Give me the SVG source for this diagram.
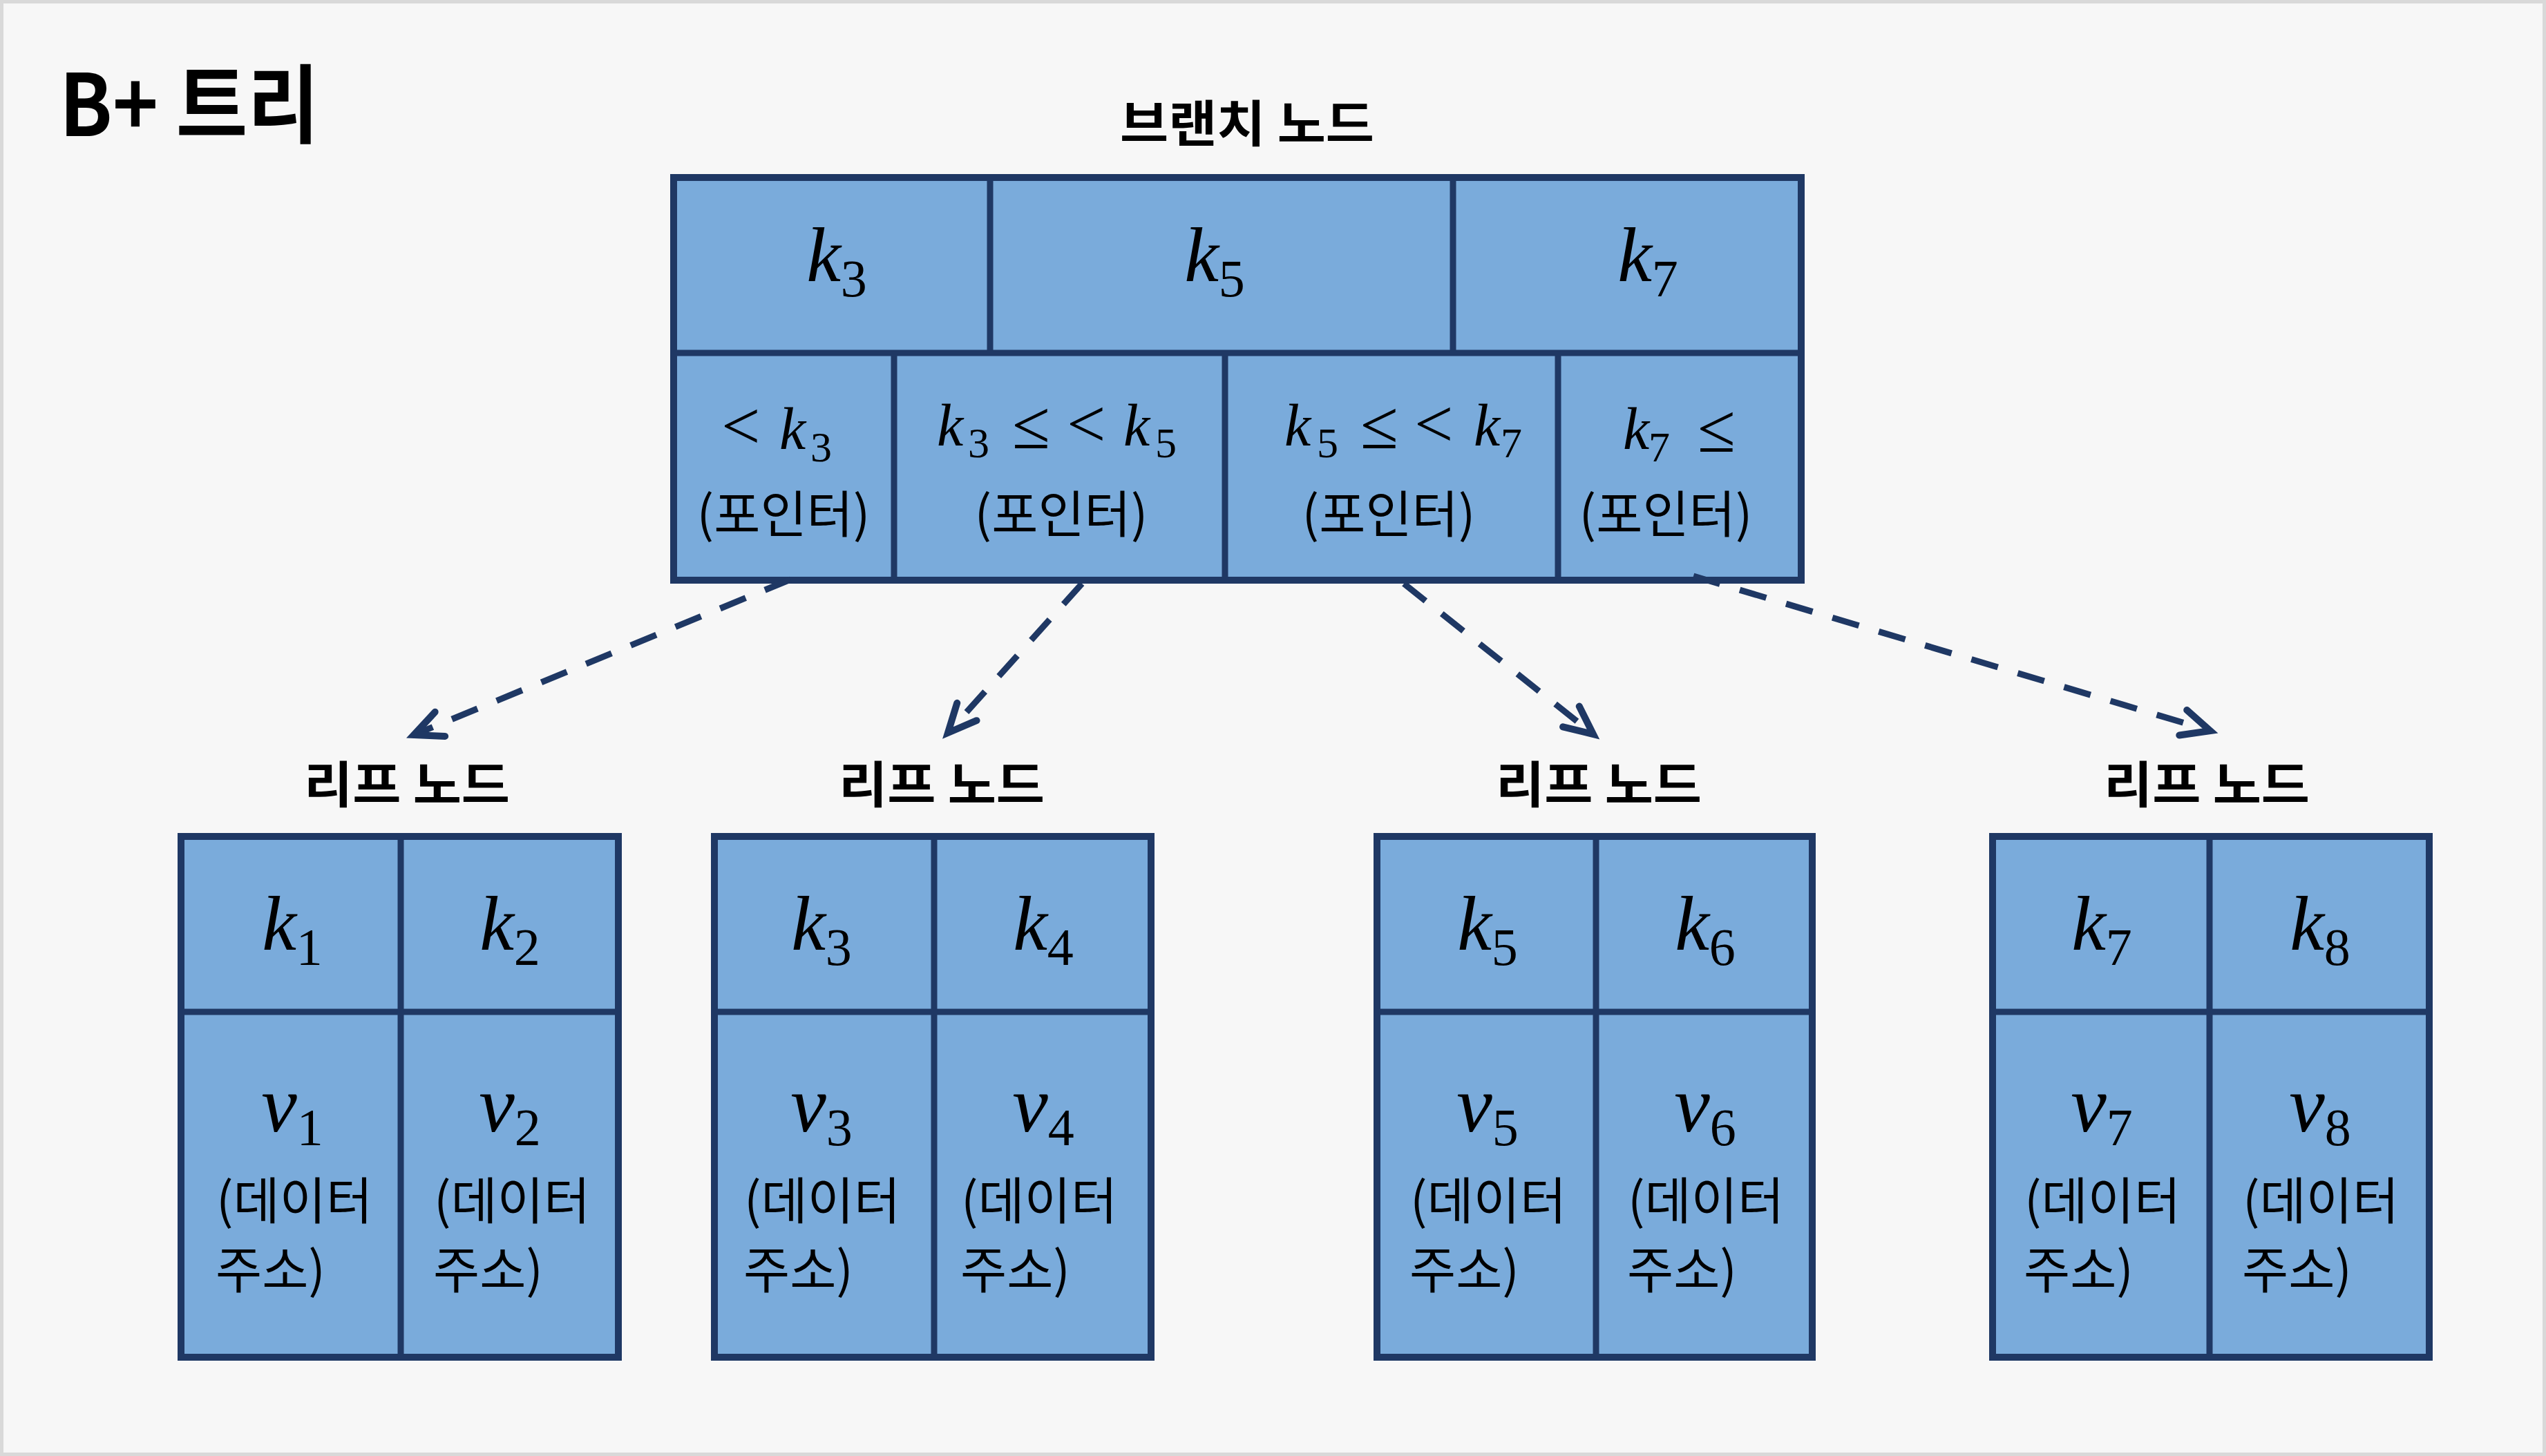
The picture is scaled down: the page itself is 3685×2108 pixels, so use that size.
<svg xmlns="http://www.w3.org/2000/svg" width="3685" height="2108" viewBox="0 0 3685 2108">
<defs>
<style>
.frame{fill:#F7F7F7;stroke:#D9D9D9;stroke-width:5}
.box{fill:#7AABDB;stroke:#1F3864;stroke-width:10}
.dv{fill:none;stroke:#1F3864;stroke-width:9}
.kr{font-family:"Noto Sans CJK KR","Noto Sans",sans-serif;fill:#000}
.lbl{font-size:72px;font-weight:700}
.note{font-size:73px;font-weight:400}
.m{font-family:"Liberation Serif","DejaVu Serif",serif;fill:#000}
.i{font-style:italic}
.rel{font-size:100px}
.conn{fill:none;stroke:#1F3864;stroke-width:9;stroke-dasharray:40 30;marker-end:url(#arr)}
</style>
<marker id="arr" markerUnits="userSpaceOnUse" orient="auto" refX="0" refY="0" markerWidth="120" markerHeight="120" viewBox="-60 -60 120 120" overflow="visible">
<path d="M-41,-19 L0,0 L-41,19" fill="none" stroke="#1F3864" stroke-width="10" stroke-linecap="round" stroke-linejoin="miter" stroke-miterlimit="10"/>
</marker>
</defs>

<rect class="frame" x="2.5" y="2.5" width="3680" height="2103"/>

<g id="title">
<text class="kr" x="86" y="197" font-size="124" font-weight="700" textLength="376" lengthAdjust="spacingAndGlyphs">B+ 트리</text>
</g>

<g id="branch-node">
<text class="kr lbl" x="1805" y="205" text-anchor="middle" textLength="368" lengthAdjust="spacingAndGlyphs">브랜치 노드</text>
<rect class="box" x="975" y="257" width="1632" height="583"/>
<line class="dv" x1="975" y1="511" x2="2607" y2="511"/>
<line class="dv" x1="1433" y1="257" x2="1433" y2="511"/>
<line class="dv" x1="2103" y1="257" x2="2103" y2="511"/>
<line class="dv" x1="1294" y1="511" x2="1294" y2="840"/>
<line class="dv" x1="1773" y1="511" x2="1773" y2="840"/>
<line class="dv" x1="2255" y1="511" x2="2255" y2="840"/>
<text class="m" x="1211" y="407" text-anchor="middle" font-size="112"><tspan class="i">k</tspan><tspan font-size="76" dy="22">3</tspan></text>
<text class="m" x="1758" y="407" text-anchor="middle" font-size="112"><tspan class="i">k</tspan><tspan font-size="76" dy="22">5</tspan></text>
<text class="m" x="2385" y="407" text-anchor="middle" font-size="112"><tspan class="i">k</tspan><tspan font-size="76" dy="22">7</tspan></text>

<text class="m" font-size="86"><tspan class="rel" x="1044" y="650">&lt;</tspan><tspan class="i" x="1128" y="650">k</tspan><tspan x="1173" y="668" font-size="62">3</tspan></text>
<text class="m" font-size="86"><tspan class="i" x="1356" y="645">k</tspan><tspan x="1401" y="662" font-size="62">3</tspan><tspan class="rel" x="1465" y="649">≤</tspan><tspan class="rel" x="1544" y="647">&lt;</tspan><tspan class="i" x="1626" y="645">k</tspan><tspan x="1672" y="662" font-size="62">5</tspan></text>
<text class="m" font-size="86"><tspan class="i" x="1859" y="645">k</tspan><tspan x="1906" y="662" font-size="62">5</tspan><tspan class="rel" x="1969" y="649">≤</tspan><tspan class="rel" x="2047" y="647">&lt;</tspan><tspan class="i" x="2133" y="645">k</tspan><tspan x="2172" y="662" font-size="62">7</tspan></text>
<text class="m" font-size="86"><tspan class="i" x="2349" y="650">k</tspan><tspan x="2386" y="668" font-size="62">7</tspan><tspan class="rel" x="2457" y="654">≤</tspan></text>

<text class="kr note" x="1134" y="771" text-anchor="middle">(포인터)</text>
<text class="kr note" x="1536" y="771" text-anchor="middle">(포인터)</text>
<text class="kr note" x="2010" y="771" text-anchor="middle">(포인터)</text>
<text class="kr note" x="2411" y="771" text-anchor="middle">(포인터)</text>
</g>

<g id="leaf-node-1">
<text class="kr lbl" x="589" y="1162" text-anchor="middle" textLength="298" lengthAdjust="spacingAndGlyphs">리프 노드</text>
<rect class="box" x="262" y="1211" width="633" height="754"/>
<line class="dv" x1="262" y1="1465" x2="895" y2="1465"/>
<line class="dv" x1="580" y1="1211" x2="580" y2="1965"/>
<text class="m" x="423" y="1375" text-anchor="middle" font-size="112"><tspan class="i">k</tspan><tspan font-size="76" dy="22">1</tspan></text>
<text class="m" x="738" y="1375" text-anchor="middle" font-size="112"><tspan class="i">k</tspan><tspan font-size="76" dy="22">2</tspan></text>
<text class="m" x="423" y="1638" text-anchor="middle" font-size="116"><tspan class="i">v</tspan><tspan font-size="76" dy="20">1</tspan></text>
<text class="m" x="738" y="1638" text-anchor="middle" font-size="116"><tspan class="i">v</tspan><tspan font-size="76" dy="20">2</tspan></text>
<text class="kr note" x="426" y="1765" text-anchor="middle">(데이터</text>
<text class="kr note" x="312" y="1865">주소)</text>
<text class="kr note" x="741" y="1765" text-anchor="middle">(데이터</text>
<text class="kr note" x="627" y="1865">주소)</text>
</g>

<g id="leaf-node-2">
<text class="kr lbl" x="1363" y="1162" text-anchor="middle" textLength="298" lengthAdjust="spacingAndGlyphs">리프 노드</text>
<rect class="box" x="1034" y="1211" width="632" height="754"/>
<line class="dv" x1="1034" y1="1465" x2="1666" y2="1465"/>
<line class="dv" x1="1352" y1="1211" x2="1352" y2="1965"/>
<text class="m" x="1189" y="1375" text-anchor="middle" font-size="112"><tspan class="i">k</tspan><tspan font-size="76" dy="22">3</tspan></text>
<text class="m" x="1510" y="1375" text-anchor="middle" font-size="112"><tspan class="i">k</tspan><tspan font-size="76" dy="22">4</tspan></text>
<text class="m" x="1189" y="1638" text-anchor="middle" font-size="116"><tspan class="i">v</tspan><tspan font-size="76" dy="20">3</tspan></text>
<text class="m" x="1510" y="1638" text-anchor="middle" font-size="116"><tspan class="i">v</tspan><tspan font-size="76" dy="20">4</tspan></text>
<text class="kr note" x="1190" y="1765" text-anchor="middle">(데이터</text>
<text class="kr note" x="1076" y="1865">주소)</text>
<text class="kr note" x="1504" y="1765" text-anchor="middle">(데이터</text>
<text class="kr note" x="1390" y="1865">주소)</text>
</g>

<g id="leaf-node-3">
<text class="kr lbl" x="2314" y="1162" text-anchor="middle" textLength="298" lengthAdjust="spacingAndGlyphs">리프 노드</text>
<rect class="box" x="1993" y="1211" width="630" height="754"/>
<line class="dv" x1="1993" y1="1465" x2="2623" y2="1465"/>
<line class="dv" x1="2310" y1="1211" x2="2310" y2="1965"/>
<text class="m" x="2153" y="1375" text-anchor="middle" font-size="112"><tspan class="i">k</tspan><tspan font-size="76" dy="22">5</tspan></text>
<text class="m" x="2468" y="1375" text-anchor="middle" font-size="112"><tspan class="i">k</tspan><tspan font-size="76" dy="22">6</tspan></text>
<text class="m" x="2153" y="1638" text-anchor="middle" font-size="116"><tspan class="i">v</tspan><tspan font-size="76" dy="20">5</tspan></text>
<text class="m" x="2468" y="1638" text-anchor="middle" font-size="116"><tspan class="i">v</tspan><tspan font-size="76" dy="20">6</tspan></text>
<text class="kr note" x="2154" y="1765" text-anchor="middle">(데이터</text>
<text class="kr note" x="2040" y="1865">주소)</text>
<text class="kr note" x="2469" y="1765" text-anchor="middle">(데이터</text>
<text class="kr note" x="2355" y="1865">주소)</text>
</g>

<g id="leaf-node-4">
<text class="kr lbl" x="3194" y="1162" text-anchor="middle" textLength="298" lengthAdjust="spacingAndGlyphs">리프 노드</text>
<rect class="box" x="2884" y="1211" width="632" height="754"/>
<line class="dv" x1="2884" y1="1465" x2="3516" y2="1465"/>
<line class="dv" x1="3198" y1="1211" x2="3198" y2="1965"/>
<text class="m" x="3042" y="1375" text-anchor="middle" font-size="112"><tspan class="i">k</tspan><tspan font-size="76" dy="22">7</tspan></text>
<text class="m" x="3358" y="1375" text-anchor="middle" font-size="112"><tspan class="i">k</tspan><tspan font-size="76" dy="22">8</tspan></text>
<text class="m" x="3042" y="1638" text-anchor="middle" font-size="116"><tspan class="i">v</tspan><tspan font-size="76" dy="20">7</tspan></text>
<text class="m" x="3358" y="1638" text-anchor="middle" font-size="116"><tspan class="i">v</tspan><tspan font-size="76" dy="20">8</tspan></text>
<text class="kr note" x="3043" y="1765" text-anchor="middle">(데이터</text>
<text class="kr note" x="2929" y="1865">주소)</text>
<text class="kr note" x="3359" y="1765" text-anchor="middle">(데이터</text>
<text class="kr note" x="3245" y="1865">주소)</text>
</g>

<g id="connectors">
<line class="conn" x1="1144" y1="839" x2="599" y2="1064"/>
<line class="conn" x1="1566" y1="845" x2="1372" y2="1061"/>
<line class="conn" x1="2032" y1="845" x2="2306" y2="1063"/>
<line class="conn" x1="2451" y1="834" x2="3199" y2="1058"/>
</g>
</svg>
